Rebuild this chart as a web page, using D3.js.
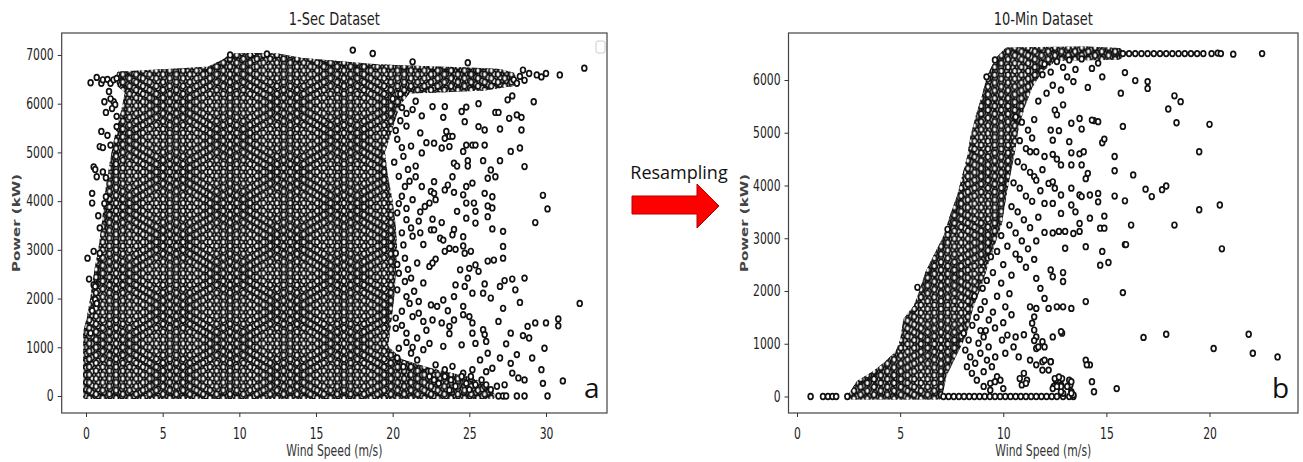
<!DOCTYPE html>
<html>
<head>
<meta charset="utf-8">
<script src="https://cdn.jsdelivr.net/npm/d3@7"></script>
<style>
  body { margin: 0; background: #fff; }
</style>
</head>
<body>
<svg id="fig" width="1303" height="462"></svg>
<script>
// ---- 1-Sec dataset ----
// outline of the solid cloud of points [wind m/s, power kW]
const secCloud = [
  [0.0, 0], [0.0, 1300], [0.25, 1600], [0.5, 2050], [0.75, 2600], [1.0, 3000], [1.25, 3600],
  [1.45, 4200], [1.75, 4800], [2.05, 5300], [2.45, 5800], [2.75, 6250], [2.2, 6400], [2.2, 6600],
  [4.0, 6630], [6.0, 6660], [8.0, 6700], [9.0, 6850], [9.5, 6970], [11.0, 6980], [12.5, 6970],
  [14.0, 6880], [15.5, 6840], [17.0, 6800], [19.0, 6750], [21.0, 6720], [23.0, 6700], [25.0, 6680],
  [27.0, 6650], [27.8, 6580], [27.8, 6420], [26.0, 6330], [23.0, 6290], [21.0, 6270], [20.3, 6000],
  [19.8, 5500], [19.3, 5000], [19.5, 4500], [19.8, 4000], [20.0, 3500], [20.1, 3000], [20.0, 2500],
  [19.9, 2000], [19.7, 1500], [19.5, 1000], [20.5, 700], [22.0, 550], [23.5, 430], [25.0, 330],
  [26.0, 200], [26.5, 0]
];

// single points outside the solid cloud
const secScatter = [
  // left fringe
  [0.3,6430],[0.7,6540],[1.0,6420],[1.1,6490],[1.4,6500],[1.6,6420],[1.8,6490],[2.0,6520],
  [1.2,6040],[1.8,6040],[1.9,5980],[1.3,5820],[2.0,5740],[1.7,5900],[1.5,6250],[1.6,6100],
  [1.0,5430],[2.0,5530],[0.9,5120],[1.1,5100],[1.6,5150],[1.4,5350],
  [0.5,4700],[0.7,4500],[0.6,4650],[1.3,4480],[1.1,4600],
  [0.4,4160],[0.4,3960],[1.3,4090],[1.2,3950],[0.8,3700],[0.9,3450],
  [0.1,2830],[0.5,2970],[0.9,2930],[0.3,1290],[0.6,1980],[0.7,1900],[0.5,2280],[0.6,2250],[0.2,2400],[0.4,1750],
  // bumps above the top band
  [17.4,7100],[18.7,7030],[21.3,6860],[24.9,6840],[9.4,7000],[11.8,7020],
  // tail of the top band
  [27.9,6490],[28.1,6420],[28.3,6560],[28.5,6690],[28.6,6480],[28.9,6620],[29.4,6590],[29.7,6550],
  [30.0,6620],[30.9,6590],[32.5,6730],
  // right of the main body
  [20.0,6100],[20.6,5920],[21.3,5880],[21.5,6050],[21.9,5750],[20.5,5650],[20.9,5540],[21.8,5400],
  [20.3,5270],[22.2,5200],[21.2,5130],[21.9,4990],[20.7,4920],[20.1,4800],[21.5,4720],[20.4,4510],
  [21.5,4500],[21.1,4410],[20.8,4300],[21.9,4300],[22.5,4200],[20.6,4100],[21.3,4030],[20.4,3950],
  [22.1,3890],[21.8,3780],[20.3,3760],[20.9,3620],[21.7,3590],[22.5,3410],[20.6,3350],[21.8,3350],
  [21.3,3280],[22.0,3110],[20.7,3100],[20.2,2930],[20.8,2830],[21.6,2730],[20.3,2700],[22.4,2660],
  [20.4,2520],[21.2,2420],[20.8,2350],[22.0,2320],[20.3,2180],[21.4,2150],[20.9,2040],[21.7,1940],
  [22.5,1870],[20.6,1740],[21.7,1700],[21.3,1630],[20.2,1600],[22.0,1530],[20.2,1390],[22.2,1350],
  [20.9,1290],[21.6,1190],[20.9,1100],[22.4,1080],[20.4,980],[22.0,950],[21.2,880],[20.3,780],[21.6,740],
  [20.5,6200],[20.9,5800],[20.2,5450],[20.6,5100],[21.0,4650],[20.9,3850],[21.2,3450],[21.0,2600],
  [21.1,1900],[20.6,1450],[21.3,1000],[20.7,600],
  // far right
  [22.6,5940],[23.4,5940],[23.3,5720],[24.5,5840],[24.8,5930],[25.6,6000],[27.5,6080],[27.8,6160],[29.2,6040],
  [26.7,5820],[26.9,5820],[27.6,5700],[28.1,5770],[28.4,5720],[24.7,5630],[25.6,5530],[26.0,5460],[27.0,5480],[28.4,5460],
  [23.5,5430],[23.7,5330],[23.9,5330],[23.4,5290],[22.7,5190],[23.2,5090],[23.7,5120],[24.6,5020],
  [25.2,5150],[25.4,5150],[26.0,5150],[24.8,5150],
  [27.7,5020],[28.3,5090],[27.0,4830],[24.0,4780],[24.2,4720],[24.9,4830],[25.9,4830],[26.4,4640],[28.6,4710],[24.9,4720],
  [23.9,4500],[26.7,4500],[26.2,4470],[25.2,4370],[22.7,4400],[23.6,4330],[22.7,4160],[23.4,4230],[24.0,4180],
  [24.6,4130],[24.8,4300],[26.0,4160],[26.5,4090],[26.5,3860],[26.2,3900],[29.8,4120],[30.1,3840],
  [22.4,3960],[22.8,4030],[24.8,3960],[25.3,3960],[24.2,3790],[25.4,3790],[26.2,3680],
  [22.6,3630],[23.2,3560],[24.8,3650],[25.4,3550],[26.5,3430],[27.2,3380],[27.2,3070],[29.3,3560],[24.0,3420],
  [23.9,3310],[24.6,3270],[22.7,3410],[23.1,3240],[23.3,3200],
  [23.7,3030],[24.1,3010],[24.6,3080],[24.7,2930],[25.1,2970],[23.4,2970],[22.8,2810],[22.6,2730],[27.2,2830],[26.6,2790],[26.2,2770],
  [25.4,2690],[25.6,2560],[25.0,2620],[24.4,2590],[24.9,2420],[24.7,2250],[24.1,2280],[26.0,2300],[27.0,2250],
  [27.3,2370],[27.8,2400],[28.0,2180],[28.6,2420],
  [25.9,2110],[26.4,2010],[25.2,2110],[27.2,1800],[24.0,2040],[23.3,1970],[22.9,1840],[23.6,1750],[24.6,1840],[28.3,1920],[32.2,1900],
  [24.6,1670],[25.0,1630],[24.0,1560],[25.2,1500],[25.9,1360],[26.9,1530],[28.8,1430],[29.3,1500],[30.0,1500],
  [30.8,1580],[30.8,1440],[23.2,1500],[23.7,1430],[22.6,1560],
  [23.7,1280],[25.2,1290],[26.0,1260],[27.7,1290],[28.5,1240],[28.9,1190],[26.1,1120],[25.4,1080],[24.5,1050],
  [23.3,1020],[27.4,1070],[28.1,850],[29.9,980],[27.0,780],[27.7,670],
  [25.7,740],[26.2,880],[26.5,570],[26.1,500],[25.2,540],[24.6,470],[23.9,610],[23.4,540],[22.8,640],[27.8,470],
  [28.2,370],[28.6,330],[29.1,780],[29.7,540],[29.8,260],[31.1,310],
  // low strip and zero tail
  [22.4,400],[22.7,330],[23.0,260],[23.4,400],[23.8,330],[24.1,200],[24.5,400],[24.8,260],[25.1,400],
  [25.4,230],[25.8,330],[26.1,230],[26.4,130],[26.8,200],[27.3,230],[25.0,130],[23.7,120],
  [26.9,0],[27.2,0],[27.4,0],[28.1,0],[28.6,0],[30.1,0]
];

const secXTicks = [0, 5, 10, 15, 20, 25, 30];
const secYTicks = [0, 1000, 2000, 3000, 4000, 5000, 6000, 7000];

// ---- 10-Min dataset ----
const minCloud = [
  [2.6, 0], [3.0, 250], [3.8, 440], [4.4, 630], [4.9, 820], [5.15, 1070], [5.3, 1450], [5.8, 1700],
  [6.1, 2020], [6.35, 2330], [6.75, 2650], [7.25, 3030], [7.55, 3410], [7.9, 3790], [8.15, 4170],
  [8.4, 4550], [8.55, 4920], [8.8, 5300], [9.1, 5680], [9.35, 6060], [9.75, 6380], [10.2, 6560],
  [14.0, 6580], [15.6, 6550], [15.6, 6440], [12.5, 6420], [11.8, 6200], [11.3, 5900], [10.9, 5500],
  [10.6, 5100], [10.45, 4700], [10.25, 4300], [10.0, 3800], [9.8, 3300], [9.5, 2950], [9.2, 2600],
  [8.8, 2100], [8.4, 1700], [8.1, 1200], [7.6, 800], [7.1, 400], [6.9, 0]
];

const minScatter = [
  // low wind and outliers left of the curve
  [0.66,0],[1.26,0],[1.5,0],[1.72,0],[1.9,0],[2.44,0],[5.84,2070],[7.3,3170],[9.19,6060],[9.6,6380],
  // zero row
  [7.1,0],[7.35,0],[7.6,0],[7.85,0],[8.1,0],[8.35,0],[8.6,0],[8.85,0],[9.1,0],[9.35,0],[9.6,0],[9.85,0],
  [10.1,0],[10.35,0],[10.6,0],[10.85,0],[11.1,0],[11.35,0],[11.6,0],[11.85,0],[12.1,0],[12.35,0],[12.6,0],
  [12.9,0],[13.2,0],[13.4,0],
  // rated plateau
  [15.8,6500],[16.1,6500],[16.4,6500],[16.7,6500],[17.0,6500],[17.3,6500],[17.6,6500],[17.9,6500],
  [18.2,6500],[18.5,6500],[18.8,6500],[19.1,6500],[19.4,6500],[19.7,6500],[20.1,6500],[20.4,6510],
  [20.55,6500],[21.15,6490],[22.55,6500],
  // second cluster, low power
  [8.08,1200],[8.32,1070],[8.16,880],[8.4,750],[8.24,565],[8.48,440],[8.72,310],[8.64,630],[8.89,820],
  [8.8,1010],[9.05,1130],[9.29,940],[9.21,690],[9.05,470],[9.45,565],[9.61,750],[9.7,375],[9.37,250],
  [9.94,1070],[10.2,1165],[10.1,820],[10.6,1130],[10.5,940],[10.75,750],[11.0,440],[11.15,310],[10.9,220],
  [11.3,690],[11.6,910],[11.9,1040],[11.6,1130],[11.9,660],[12.3,660],[12.2,500],[12.4,1130],[12.85,1200],
  [12.55,310],[12.85,340],[12.8,220],[12.9,60],[13.3,90],[13.4,30],[13.25,220],[13.1,190],[13.2,310],
  [12.8,90],[12.45,190],[10.0,150],[9.86,310],[9.6,280],[9.37,120],[9.05,190],
  // second cluster, mid power
  [8.5,1350],[8.7,1500],[8.9,1650],[9.1,1800],[8.6,1900],[9.0,2050],[9.3,1450],[9.5,1600],[9.2,2200],
  [9.5,2350],[9.7,1900],[9.9,2150],[10.1,1700],[10.3,1950],[9.4,2650],[9.7,2750],[10.0,2500],[10.2,2850],
  [10.4,2300],[9.9,3050],[10.3,3250],[10.6,2700],[9.15,1250],[9.6,1300],[10.0,1400],[10.4,1550],[8.9,1250],
  [10.6,5300],[10.9,5200],[11.2,5050],[11.5,5250],[10.8,4850],[11.1,4700],[11.4,4900],[10.7,4450],
  [11.0,4350],[11.3,4250],[10.5,4050],[10.8,3950],[11.1,3800],[11.4,3700],[10.4,3600],[10.7,3500],
  [11.0,3350],[11.3,3200],[10.6,3100],[10.9,2950],[11.2,2800],[11.6,2950],[10.8,2600],[11.1,2450],
  [11.5,2600],[11.7,3400],[11.8,3900],[11.9,4300],[11.7,5600],[12.1,5750],[11.9,6100],
  [12.0,6300],[12.6,6350],[13.2,6380],[13.8,6400],[12.3,6150],[13.5,6200],
  // scattered points right of the curve
  [11.3,4640],[11.6,4640],[12.0,4550],[12.4,4590],[12.6,4500],[12.8,4390],[13.3,4390],[13.3,4620],
  [13.7,4600],[13.9,4640],[13.8,4390],[14.1,4230],[14.0,4130],[11.5,4170],[11.6,4100],[12.2,4040],
  [12.4,4070],[12.5,3950],[12.8,3820],[13.3,3950],[13.7,3820],[13.8,3790],[14.2,3820],[14.6,3850],
  [14.6,3690],[15.4,3800],[15.9,3710],[16.9,3930],[17.2,3790],[17.7,3920],[17.9,3990],[19.5,3540],
  [20.5,3630],[18.3,3250],[16.2,3250],[15.9,2880],[15.95,2880],[20.6,2800],
  [12.0,3660],[12.4,3660],[12.8,3470],[13.3,3630],[13.5,3500],[14.2,3380],[14.9,3420],[14.7,3190],
  [14.9,3190],[13.7,3280],[13.7,3130],[13.0,3130],[13.4,3090],[12.7,3130],[12.4,3100],[12.0,3110],
  [13.0,2810],[14.0,2840],[14.8,2750],[14.7,2490],[15.1,2540],[15.8,1970],[14.0,1800],[12.9,2350],
  [12.9,2180],[12.4,2270],[12.3,2400],[11.6,2240],[11.8,2050],[12.0,1860],[12.6,1700],[12.2,1670],
  [12.9,1700],[13.3,1670],[11.6,1670],[11.3,1700],[11.5,1510],[11.4,1390],[11.5,1260],[11.0,1170],
  [12.8,1230],[16.8,1120],[17.9,1180],[21.9,1180],[20.2,910],[22.1,820],[23.3,750],[11.7,940],
  [12.0,940],[11.5,1060],[12.0,690],[12.3,660],[11.9,500],[11.6,600],[14.0,690],[14.2,600],[14.05,600],
  [14.3,280],[14.4,90],[15.5,150],[13.3,280],[13.3,60],[12.8,190],[12.5,340],[12.7,370],[12.4,150],
  [12.6,190],[10.8,340],[11.1,250],
  [12.9,6240],[14.6,6320],[14.3,6220],[14.8,6060],[15.9,6140],[16.4,5990],[17.0,5970],[17.0,5840],
  [13.1,6060],[12.4,5900],[12.8,5810],[13.4,5970],[14.1,5860],[15.7,5750],[18.3,5700],[18.6,5590],
  [18.0,5450],[12.9,5530],[12.5,5430],[12.6,5340],[18.4,5190],[20.0,5160],[15.8,5120],[14.4,5230],
  [14.6,5210],[14.3,5240],[13.3,5180],[13.7,5270],[13.8,5070],[14.8,4810],[14.9,4880],[15.4,4550],
  [15.4,4280],[16.3,4200],[19.5,4640],[13.2,4830],[12.4,4860],[12.3,5050],[12.7,5040]
];

const minXTicks = [0, 5, 10, 15, 20];
const minYTicks = [0, 1000, 2000, 3000, 4000, 5000, 6000];

// the source figure is squeezed sideways, so text is narrowed to match
const SQUASH = 0.72;
const FONT = "'DejaVu Sans', sans-serif";
const MARK = { rx: 2.4, ry: 2.8, sw: 1.7 };

const fig = d3.select("#fig");
const defs = fig.append("defs");

function squash(sel) {
  sel.each(function () {
    const w = this.getComputedTextLength();
    d3.select(this).attr("textLength", w * SQUASH).attr("lengthAdjust", "spacingAndGlyphs");
  });
}

// tile of markers; two tiles of different pitch are layered for an uneven look
function markerTile(id, x0, y0, pw, ph) {
  const pat = defs.append("pattern")
    .attr("id", id)
    .attr("patternUnits", "userSpaceOnUse")
    .attr("x", x0).attr("y", y0)
    .attr("width", pw).attr("height", ph);
  pat.selectAll("ellipse")
    .data([[0, 0], [pw, 0], [0, ph], [pw, ph], [pw / 2, ph / 2]])
    .join("ellipse")
      .attr("cx", d => d[0]).attr("cy", d => d[1])
      .attr("rx", MARK.rx).attr("ry", MARK.ry)
      .attr("fill", "#fff").attr("stroke", "#111").attr("stroke-width", MARK.sw);
}

function drawPanel(p) {
  const top = 33, bottom = 413;
  const x = d3.scaleLinear().domain(p.xDomain).range([p.left, p.right]);
  const y = d3.scaleLinear().domain(p.yDomain).range([bottom, top]);

  markerTile(p.id + "-a", x(0), y(0), 12, 7);
  markerTile(p.id + "-b", x(0) + 3.3, y(0) + 2.1, 13.4, 7.8);

  defs.append("clipPath").attr("id", p.id + "-clip")
    .append("rect")
      .attr("x", p.left).attr("y", top)
      .attr("width", p.right - p.left).attr("height", bottom - top);

  const plot = fig.append("g").attr("clip-path", `url(#${p.id}-clip)`);

  const outline = d3.line()
    .x(d => x(d[0]))
    .y(d => y(d[1]))
    .curve(d3.curveLinearClosed);

  ["a", "b"].forEach(k => {
    plot.append("path")
      .datum(p.cloud)
      .attr("d", outline)
      .attr("fill", `url(#${p.id}-${k})`)
      .attr("stroke", `url(#${p.id}-${k})`)
      .attr("stroke-width", 6)
      .attr("stroke-linejoin", "round");
  });

  plot.selectAll("ellipse.pt")
    .data(p.points)
    .join("ellipse")
      .attr("class", "pt")
      .attr("cx", d => x(d[0]))
      .attr("cy", d => y(d[1]))
      .attr("rx", MARK.rx).attr("ry", MARK.ry)
      .attr("fill", "#fff").attr("stroke", "#111").attr("stroke-width", MARK.sw);

  // frame
  fig.append("rect")
    .attr("x", p.left).attr("y", top)
    .attr("width", p.right - p.left).attr("height", bottom - top)
    .attr("fill", "none").attr("stroke", "#444").attr("stroke-width", 1.2);

  // axes
  const xAxis = fig.append("g")
    .attr("transform", `translate(0,${bottom})`)
    .call(d3.axisBottom(x).tickValues(p.xTicks).tickFormat(d3.format("d")).tickSize(4).tickPadding(11));
  const yAxis = fig.append("g")
    .attr("transform", `translate(${p.left},0)`)
    .call(d3.axisLeft(y).tickValues(p.yTicks).tickFormat(d3.format("d")).tickSize(4).tickPadding(4));

  [xAxis, yAxis].forEach(ax => {
    ax.select(".domain").remove();
    ax.attr("font-family", FONT).attr("font-size", 15).attr("color", "#333");
    ax.selectAll("text").attr("fill", "#222");
    squash(ax.selectAll("text"));
  });

  // title and labels
  fig.append("text")
    .attr("x", (p.left + p.right) / 2).attr("y", 25)
    .attr("text-anchor", "middle")
    .attr("font-family", FONT).attr("font-size", 18).attr("fill", "#222")
    .text(p.title)
    .call(squash);

  fig.append("text")
    .attr("x", (p.left + p.right) / 2).attr("y", 456)
    .attr("text-anchor", "middle")
    .attr("font-family", FONT).attr("font-size", 15).attr("fill", "#333")
    .text("Wind Speed (m/s)")
    .call(squash);

  fig.append("text")
    .attr("transform", `translate(${p.yLabelX},${(top + bottom) / 2}) rotate(-90) scale(1,${SQUASH})`)
    .attr("text-anchor", "middle")
    .attr("font-family", FONT).attr("font-size", 15).attr("fill", "#444")
    .attr("font-weight", "bold")
    .text("Power (kW)");

  // panel letter
  fig.append("text")
    .attr("x", p.letterX).attr("y", 398)
    .attr("font-family", "'Open Sans', sans-serif").attr("font-size", 28).attr("fill", "#111")
    .text(p.letter);
}

drawPanel({
  id: "sec", title: "1-Sec Dataset", letter: "a",
  left: 61.7, right: 607, letterX: 584, yLabelX: 20,
  xDomain: [(61.7 - 86) / 15.333, (607 - 86) / 15.333],
  yDomain: [-349, 7451],
  xTicks: secXTicks, yTicks: secYTicks,
  cloud: secCloud, points: secScatter
});

drawPanel({
  id: "min", title: "10-Min Dataset", letter: "b",
  left: 788.5, right: 1298, letterX: 1272, yLabelX: 748,
  xDomain: [(788.5 - 797) / 20.625, (1298 - 797) / 20.625],
  yDomain: [-313, 6891],
  xTicks: minXTicks, yTicks: minYTicks,
  cloud: minCloud, points: minScatter
});

// empty legend box left in the first panel
fig.append("rect")
  .attr("x", 596).attr("y", 41).attr("width", 9).attr("height", 12).attr("rx", 2)
  .attr("fill", "#fff").attr("stroke", "#ccc");

// resampling arrow between the panels
fig.append("text")
  .attr("x", 679).attr("y", 179)
  .attr("text-anchor", "middle")
  .attr("font-family", "'Open Sans', sans-serif").attr("font-size", 18).attr("fill", "#111")
  .text("Resampling");

fig.append("path")
  .attr("d", "M632,196 H697 V184 L719,206 L697,228 V214 H632 Z")
  .attr("fill", "#ff0000").attr("stroke", "#b00000").attr("stroke-width", 1);
</script>
</body>
</html>
